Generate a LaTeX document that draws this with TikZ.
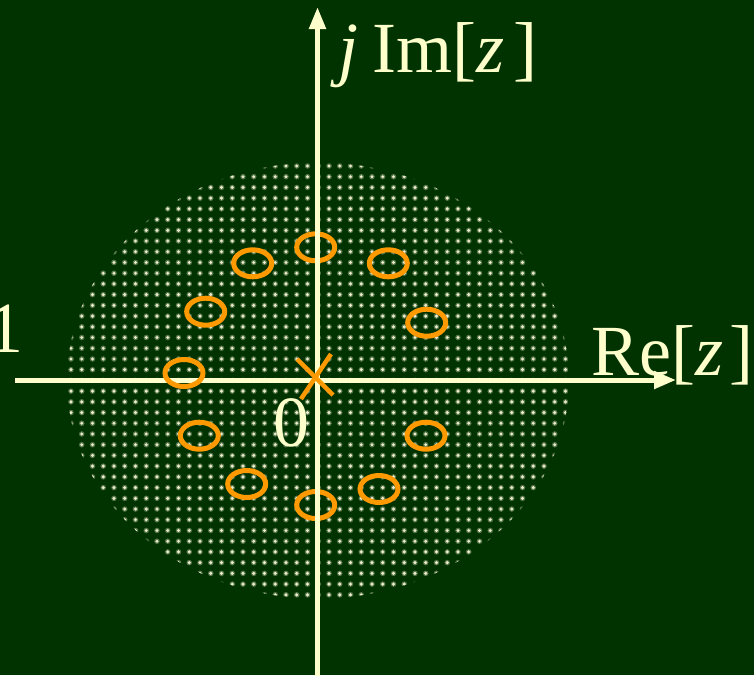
\documentclass[tikz,border=0pt]{standalone}
\usepackage{fontspec}
\setmainfont{Liberation Serif}
\usetikzlibrary{arrows.meta}
\definecolor{bg}{RGB}{0,51,0}
\definecolor{axisc}{RGB}{255,255,204}
\definecolor{zeroc}{RGB}{255,153,0}
\definecolor{dotc}{RGB}{235,235,205}
\begin{document}
\begin{tikzpicture}[x=1pt,y=-1pt,
  axisline/.style={draw=axisc,line width=5pt},
  zeroring/.style={draw=zeroc,line width=5pt},
  polemark/.style={draw=zeroc,line width=4.5pt},
  lbl/.style={text=axisc,inner sep=0pt,font=\fontsize{72}{86}\selectfont,anchor=base west},
  halo/.style={fill=dotc,opacity=0.35},
  dotmark/.style={fill=dotc}]
\fill[bg] (0,0) rectangle (754,675);
\useasboundingbox (0,0) rectangle (754,675);
% dotted region of convergence
\begin{scope}
\clip (318,380.5) ellipse [x radius=251, y radius=218];
\foreach \k in {-22,...,27}{
  \foreach \m in {-1,...,41}{
    \fill[halo] ({286+10.75*\k},{166+10.72*\m}) circle [radius=2.8];
    \fill[dotmark] ({286+10.75*\k},{166+10.72*\m}) circle [radius=1.7];
  }
}
\end{scope}
% axes ends
\coordinate (xs) at (15,380);
\coordinate (xe) at (676,380);
\coordinate (ys) at (317.5,680);
\coordinate (ye) at (317.5,7);
\draw[axisline,-{Triangle[length=22pt,width=17pt]}] (xs) -- (xe);
% zeros
\foreach \cx/\cy in {315.7/247.3, 252.7/263.3, 388.3/263.3, 205.7/311.7, 426.7/322.7,
                     184/373, 199.3/435.7, 426/435.7, 246.7/484, 379/489, 315.7/505}{
  \draw[zeroring] (\cx,\cy) ellipse [x radius=19, y radius=13.5];
}
\draw[axisline,-{Triangle[length=22pt,width=16pt]}] (ys) -- (ye);
% pole at origin
\coordinate (p1) at (297,359);
\coordinate (p2) at (333,395);
\coordinate (p3) at (331,354);
\coordinate (p4) at (301,399);
\draw[polemark] (p1) -- (p2);
\draw[polemark] (p3) -- (p4);
% labels
\node[lbl] (re) at (591,375) {Re[\textit{z}\kern6pt]};
\node[lbl] (im) at (338,72) {\textit{j}\kern14pt Im[\textit{z}\kern9pt]};
\node[lbl,anchor=base east] (one) at (24,352) {1};
\node[lbl] (zero) at (273,446) {0};
\end{tikzpicture}
\end{document}
